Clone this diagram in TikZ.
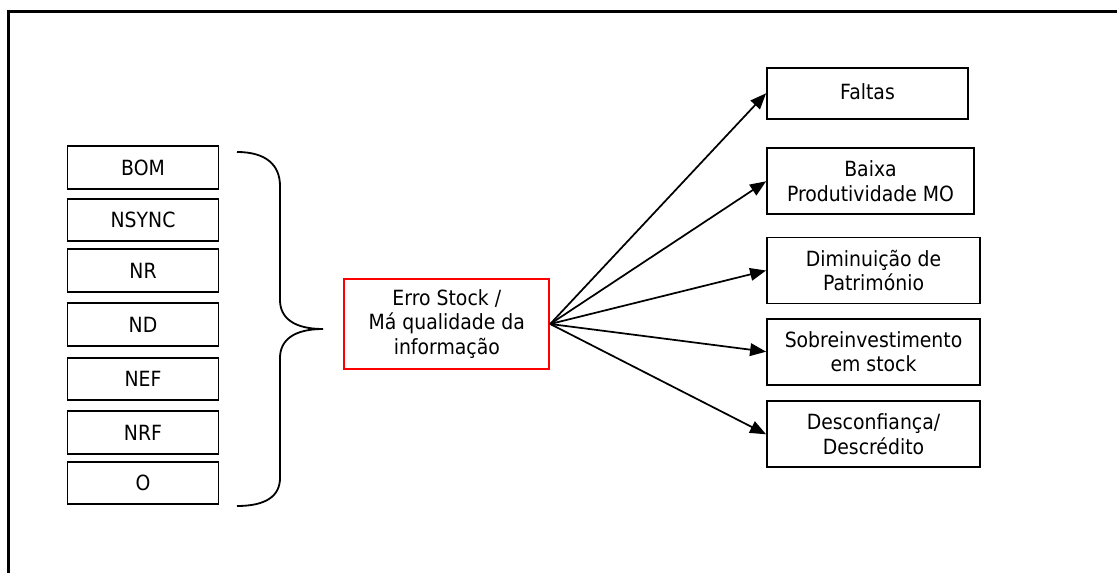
\documentclass[tikz,border=0pt]{standalone}
\usepackage{fontspec}
\setmainfont{DejaVu Sans}[FakeStretch=0.9]
\usetikzlibrary{arrows.meta}
\begin{document}
\begin{tikzpicture}[x=0.75pt,y=-0.75pt,
  every node/.style={font=\fontsize{15.7pt}{18.6pt}\selectfont, align=center, inner sep=0pt},
  box/.style={draw=black, line width=1.35pt},
  lbox/.style={box, minimum width=113.25pt, minimum height=32pt},
  rbox/.style={box, minimum height=49.5pt},
  core/.style={draw=red, line width=1.35pt, minimum width=153.75pt, minimum height=67pt},
  arr/.style={line width=1.3pt, -{Triangle[length=12pt,width=9.5pt]}},
  frame/.style={line width=1.7pt},
  brace/.style={line width=1.35pt}]
\useasboundingbox (0,0) rectangle (1117,573);

% open frame: top and left edges only
\coordinate (fl) at (8.5,573);
\coordinate (fc) at (8.5,11.5);
\coordinate (fr) at (1117,11.5);
\draw[frame] (fl) -- (fc) -- (fr);

% causes
\node[lbox] (bom)   at (143,167.5) {BOM};
\node[lbox] (nsync) at (143,220)   {NSYNC};
\node[lbox] (nr)    at (143,270.7) {NR};
\node[lbox] (nd)    at (143,324.5) {ND};
\node[lbox] (nef)   at (143,379)   {NEF};
\node[lbox] (nrf)   at (143,432.7) {NRF};
\node[lbox] (o)     at (143,483)   {O};

% grouping brace
\coordinate (btop) at (237,152);
\coordinate (bmid) at (323,329);
\coordinate (bbot) at (237,506);
\draw[brace] (btop) .. controls (266,152) and (280,165) .. (280,186)
  -- (280,300) .. controls (280,318) and (294,329) .. (bmid)
  .. controls (294,329) and (280,340) .. (280,358)
  -- (280,478) .. controls (280,496) and (266,506) .. (bbot);

% central problem
\node[core] (err) at (446.8,324) {Erro Stock /\\Má qualidade da\\informação};

% consequences
\node[rbox, minimum width=150.75pt, minimum height=38.5pt] (falt) at (867.5,93.3)
  {\raisebox{2.5pt}{Faltas}};
\node[rbox, minimum width=155.25pt] (baixa) at (870.5,181.3) {Baixa\\Produtividade MO};
\node[rbox, minimum width=159.75pt] (dim)   at (873.5,270.5) {Diminuição de\\Património};
\node[rbox, minimum width=159.75pt] (sobre) at (873.5,351.7) {Sobreinvestimento\\em stock};
\node[rbox, minimum width=159.75pt] (desc)  at (873.5,434.3) {Desconfiança/\\Descrédito};

\draw[arr] (err.east) -- (falt.west);
\draw[arr] (err.east) -- (baixa.west);
\draw[arr] (err.east) -- (dim.west);
\draw[arr] (err.east) -- (sobre.west);
\draw[arr] (err.east) -- (desc.west);
\end{tikzpicture}
\end{document}
